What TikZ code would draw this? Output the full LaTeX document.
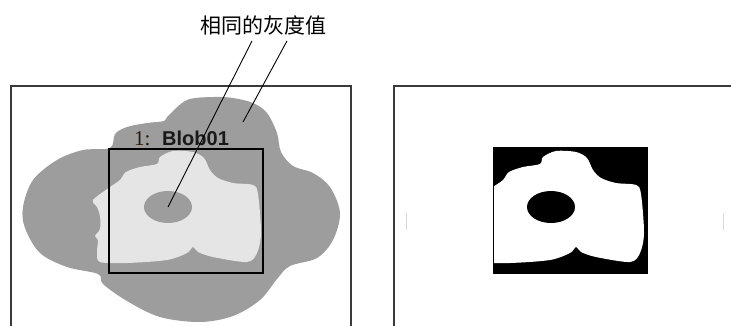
\documentclass[tikz,border=0pt]{standalone}
\usepackage{fontspec}
\setmainfont{Liberation Serif}
\newfontfamily\cjkfont{Noto Sans CJK SC}
\newfontfamily\blobfont{Liberation Sans}
\definecolor{blobgray}{HTML}{9D9D9D}
\definecolor{blobhi}{HTML}{E5E5E5}
\definecolor{framegray}{HTML}{3A3A3A}
\definecolor{ticgray}{HTML}{D8D8D8}

% light region, reused in both panels
\newcommand{\hipath}{plot[smooth cycle,tension=0.5] coordinates {
  (93,200) (110,187) (120,180) (126,172) (140,167) (157,164) (160,157)
  (173,151) (193,152) (204,158) (210,170) (218,178) (233,183) (253,185)
  (258,194) (261,233) (257,253) (247,262) (213,257) (198,252) (193,247)
  (187,253) (167,260) (127,263) (100,262) (97,252) (98,240) (95,236)
  (100,229) (100,216) (97,207)}}

\begin{document}
\begin{tikzpicture}[x=1pt,y=-1pt]
  \useasboundingbox (0,0) rectangle (731,325);
  % left panel
  \draw[framegray,line width=1.4pt] (11,330) -- (11,86) -- (351,86) -- (351,330);
  \fill[blobgray] plot[smooth cycle,tension=0.55] coordinates {
    (168,116) (187,100) (213,97) (233,98) (253,103) (267,113) (277,133)
    (281,152) (293,166) (313,173) (330,187) (340,213) (333,240) (317,258)
    (290,266) (277,279) (260,300) (233,316) (200,322) (160,317) (127,301)
    (103,284) (98,274) (67,267) (40,253) (25,228) (23,207) (33,180)
    (57,160) (83,150) (110,148) (115,134) (127,127) (147,123) (164,121)};
  \fill[blobhi] \hipath;
  \fill[blobgray] (168,207) ellipse[x radius=24,y radius=16];
  \draw[black,line width=1.3pt] (109,149) rectangle (263,273);
  \node[anchor=base west,inner sep=0pt,text=black!80!brown] (idx) at (134,145)
    {\fontsize{21}{21}\selectfont 1:};
  \node[anchor=base west,inner sep=0pt,text=black!90] (blobname) at (162,145)
    {\blobfont\bfseries\fontsize{20}{20}\selectfont Blob01};
  % callout
  \node[inner sep=0pt] (same) at (263,25) {\cjkfont\fontsize{21}{21}\selectfont 相同的灰度值};
  \coordinate (hole) at (168,207);
  \coordinate (outer) at (243,122);
  \draw[line width=0.9pt] ([xshift=-11pt,yshift=-6pt]same.south) -- (hole);
  \draw[line width=0.9pt] ([xshift=24pt,yshift=-6pt]same.south) -- (outer);
  % right panel
  \draw[framegray,line width=1.4pt] (394,330) -- (394,86) -- (735,86);
  \draw[ticgray,line width=0.8pt] (406,213) -- (406,230);
  \draw[ticgray,line width=0.8pt] (723,213) -- (723,230);
  \fill[black] (493,147) rectangle (648,274);
  \begin{scope}
    \clip (494,148) rectangle (647,273);
    \begin{scope}[xshift=383pt]
      \fill[white] \hipath;
    \end{scope}
  \end{scope}
  \fill[black] (551,207) ellipse[x radius=24,y radius=16];
\end{tikzpicture}
\end{document}
